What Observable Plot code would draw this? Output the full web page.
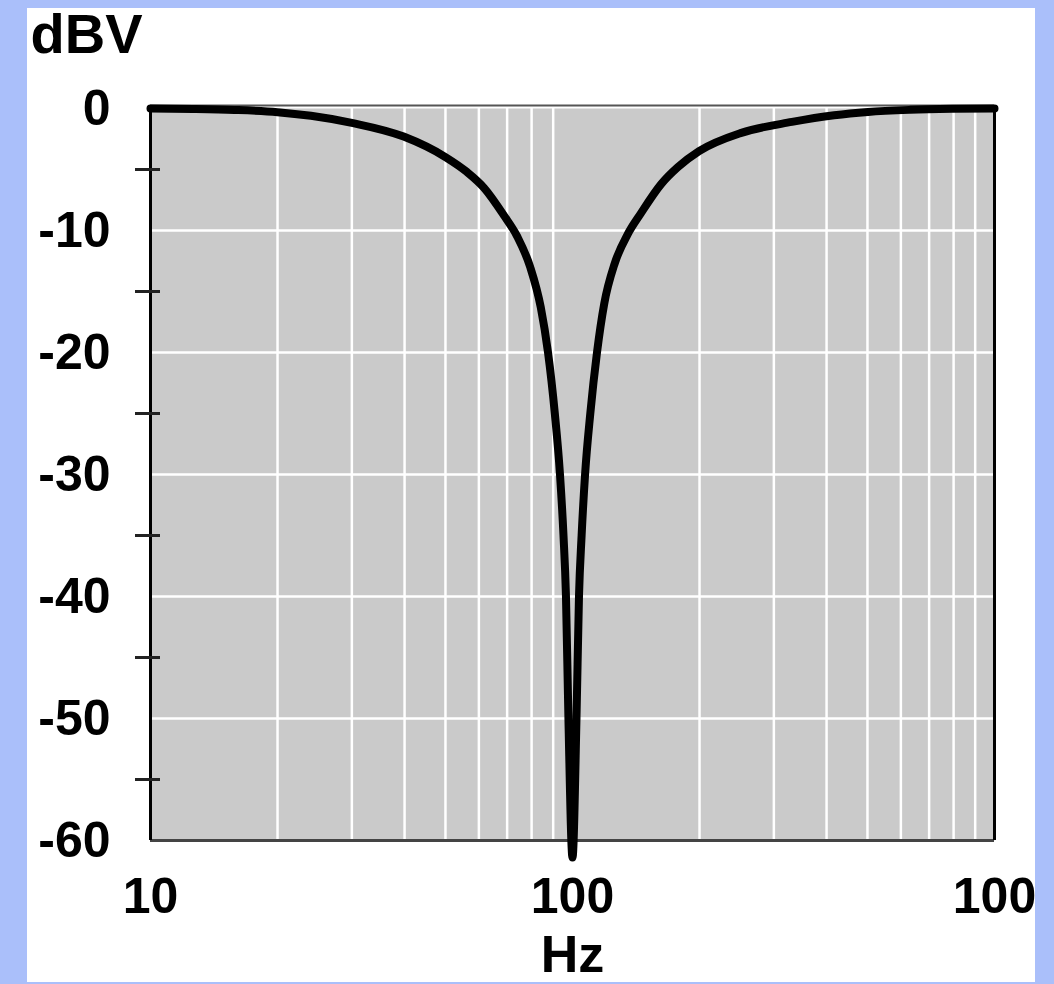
<!DOCTYPE html>
<html><head><meta charset="utf-8">
<script src="https://cdn.jsdelivr.net/npm/d3@7"></script>
<script src="https://cdn.jsdelivr.net/npm/@observablehq/plot@0.6"></script>
<style>
html,body{margin:0;padding:0;background:#aabffa;}
#wrap{position:relative;width:1054px;height:984px;overflow:hidden;background:#aabffa;}
#panel{position:absolute;left:27px;top:8px;width:1008px;height:974px;background:#ffffff;}
#chart{position:absolute;left:0;top:0;}
</style></head><body>
<div id="wrap"><div id="panel"></div><div id="chart"></div></div>
<script>
// Frequency response (notch at 100 Hz)
const freqHz = [10, 12.6, 15.8, 20.0, 24.0, 30.2, 39.8, 50.1, 56.2, 61.7, 68.9, 74.0, 79.4, 84.1, 87.5, 90.8, 93.4, 95.2, 96.5, 97.8, 100,
  102.2, 103.6, 105.1, 107.1, 110.2, 114.3, 118.9, 125.9, 135.2, 145.2, 162.2, 177.8, 199.5, 251.2, 331.1, 416.9, 501.2, 631, 794, 1000];
const levelDbV = [0, -0.04, -0.12, -0.3, -0.6, -1.2, -2.3, -4.0, -5.2, -6.5, -8.8, -10.5, -13.0, -16.3, -20, -25, -30, -35, -40, -50, -61.4,
  -50, -40, -35, -30, -25, -20, -16.0, -12.7, -10.3, -8.6, -6.2, -4.8, -3.5, -2.0, -1.1, -0.55, -0.28, -0.11, -0.03, 0];

const xTicks = [10, 100, 1000];
const xTickLabels = ["10", "100", "100"];
const yTicks = [0, -10, -20, -30, -40, -50, -60];
const yTickLabels = ["0", "-10", "-20", "-30", "-40", "-50", "-60"];
const yMinorTicks = [-5, -15, -25, -35, -45, -55];
const xGrid = [20, 30, 40, 50, 60, 70, 80, 90, 200, 300, 400, 500, 600, 700, 800, 900];
const yGrid = [-10, -20, -30, -40, -50];
const yAxisTitle = "dBV";
const xAxisTitle = "Hz";

const data = freqHz.map((f, i) => ({f, db: levelDbV[i]}));
const font = "'Liberation Sans', Arial, sans-serif";

const chart = Plot.plot({
  width: 1054, height: 984,
  marginLeft: 150, marginRight: 60, marginTop: 108, marginBottom: 144,
  style: {background: "transparent", fontFamily: font, overflow: "visible", color: "#000"},
  x: {type: "log", domain: [10, 1000]},
  y: {domain: [-60, 0]},
  marks: [
    Plot.frame({fill: "#cacaca", stroke: "none"}),
    Plot.ruleX(xGrid, {stroke: "#ffffff", strokeWidth: 2.5}),
    Plot.ruleY(yGrid, {stroke: "#ffffff", strokeWidth: 2.5}),
    Plot.ruleY([0], {stroke: "#555", strokeWidth: 2, dy: -3}),
    Plot.ruleY([-60], {stroke: "#444", strokeWidth: 3}),
    Plot.ruleX([10], {stroke: "#000", strokeWidth: 3}),
    Plot.ruleX([1000], {stroke: "#000", strokeWidth: 3}),
    Plot.axisY({ticks: yMinorTicks, tickSize: 25, dx: 10, tickFormat: () => "", strokeWidth: 3, stroke: "#222", label: null}),
    Plot.axisY({ticks: yTicks, tickSize: 0, tickPadding: 40, fontSize: 50, fontWeight: "bold", fill: "#000", label: null,
      tickFormat: d => yTickLabels[yTicks.indexOf(d)]}),
    Plot.axisX({ticks: xTicks, tickSize: 0, tickPadding: 37, fontSize: 50, fontWeight: "bold", fill: "#000", label: null,
      tickFormat: d => xTickLabels[xTicks.indexOf(d)]}),
    Plot.line(data, {x: "f", y: "db", stroke: "#000", strokeWidth: 8, curve: "monotone-x", strokeLinejoin: "round"}),
    Plot.text([yAxisTitle], {text: d => d, frameAnchor: "top-left", textAnchor: "start", dx: -120, dy: -95, fontSize: 56, fontWeight: "bold", fill: "#000"}),
    Plot.text([xAxisTitle], {text: d => d, frameAnchor: "bottom", dy: 131, fontSize: 52, fontWeight: "bold", fill: "#000"})
  ]
});
document.getElementById("chart").appendChild(chart);
</script>
</body></html>
